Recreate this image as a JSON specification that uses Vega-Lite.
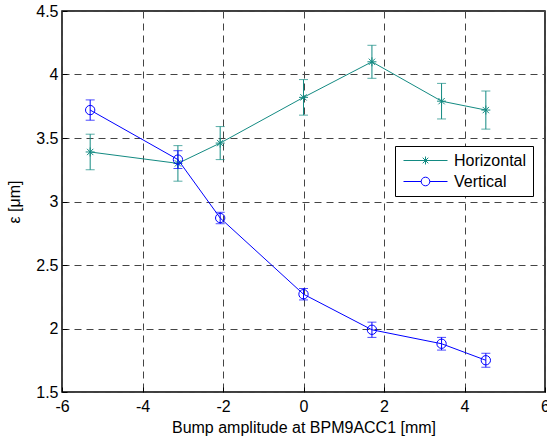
{
  "$schema": "https://vega.github.io/schema/vega-lite/v6.json",
  "autosize": "none",
  "width": 483,
  "height": 381,
  "padding": {"left": 62, "top": 11, "right": 2, "bottom": 49},
  "background": "white",
  "config": {
    "view": {"stroke": "black", "strokeWidth": 1.5},
    "font": "Liberation Sans",
    "axis": {
      "domain": false,
      "grid": true,
      "gridDash": [7, 5],
      "gridColor": "#444444",
      "gridWidth": 1,
      "gridOpacity": 1,
      "ticks": true,
      "tickSize": -5,
      "tickColor": "black",
      "labelFont": "Liberation Sans",
      "labelFontSize": 16,
      "labelColor": "black",
      "titleFont": "Liberation Sans",
      "titleFontSize": 16,
      "titleFontWeight": "normal",
      "titleColor": "black"
    }
  },
  "data": {
    "values": [
      {"series": "Horizontal", "x": -5.30, "y": 3.39, "err": 0.14},
      {"series": "Horizontal", "x": -3.12, "y": 3.30, "err": 0.14},
      {"series": "Horizontal", "x": -2.07, "y": 3.46, "err": 0.13},
      {"series": "Horizontal", "x": 0.00, "y": 3.82, "err": 0.14},
      {"series": "Horizontal", "x": 1.70, "y": 4.10, "err": 0.13},
      {"series": "Horizontal", "x": 3.43, "y": 3.79, "err": 0.14},
      {"series": "Horizontal", "x": 4.53, "y": 3.72, "err": 0.15},
      {"series": "Vertical", "x": -5.30, "y": 3.72, "err": 0.08},
      {"series": "Vertical", "x": -3.12, "y": 3.33, "err": 0.07},
      {"series": "Vertical", "x": -2.07, "y": 2.87, "err": 0.045},
      {"series": "Vertical", "x": 0.00, "y": 2.27, "err": 0.045},
      {"series": "Vertical", "x": 1.70, "y": 1.99, "err": 0.06},
      {"series": "Vertical", "x": 3.43, "y": 1.88, "err": 0.05},
      {"series": "Vertical", "x": 4.53, "y": 1.75, "err": 0.055}
    ]
  },
  "encoding": {
    "x": {
      "field": "x", "type": "quantitative",
      "scale": {"domain": [-6, 6], "nice": false, "zero": false},
      "axis": {"values": [-6, -4, -2, 0, 2, 4, 6], "labelExpr": "'' + datum.value", "title": "Bump amplitude at BPM9ACC1 [mm]", "labelPadding": 11, "titlePadding": 5, "labelFlush": false, "labelOverlap": false}
    },
    "y": {
      "field": "y", "type": "quantitative",
      "scale": {"domain": [1.5, 4.5], "nice": false, "zero": false},
      "axis": {"values": [1.5, 2, 2.5, 3, 3.5, 4, 4.5], "labelExpr": "'' + datum.value", "title": "ε [μm]", "labelPadding": 9, "titlePadding": 13, "labelFlush": false, "labelOverlap": false}
    }
  },
  "layer": [
    {
      "transform": [{"filter": "datum.series === 'Horizontal'"}],
      "layer": [
        {"mark": {"type": "errorbar", "ticks": {"size": 9, "color": "#138a82"}, "rule": {"color": "#138a82"}, "thickness": 1, "color": "#138a82"}, "encoding": {"yError": {"field": "err"}}},
        {"mark": {"type": "line", "strokeWidth": 1, "color": "#138a82"}, "encoding": {"order": {"field": "x", "type": "quantitative"}}},
        {"mark": {"type": "point", "shape": "M-1,0H1M0,-1V1M-0.7,-0.7L0.7,0.7M-0.7,0.7L0.7,-0.7", "size": 81, "filled": false, "strokeWidth": 1, "color": "#138a82", "opacity": 1}, "encoding": {}}
      ]
    },
    {
      "transform": [{"filter": "datum.series === 'Vertical'"}],
      "layer": [
        {"mark": {"type": "errorbar", "ticks": {"size": 9, "color": "#0000ff"}, "rule": {"color": "#0000ff"}, "thickness": 1, "color": "#0000ff"}, "encoding": {"yError": {"field": "err"}}},
        {"mark": {"type": "line", "strokeWidth": 1, "color": "#0000ff"}, "encoding": {"order": {"field": "x", "type": "quantitative"}}},
        {"mark": {"type": "point", "shape": "circle", "size": 87, "filled": false, "strokeWidth": 1, "color": "#0000ff", "opacity": 1}, "encoding": {}}
      ]
    },
    {
      "transform": [{"filter": "datum.x > 100"}],
      "mark": {"type": "point", "filled": false, "size": 256, "strokeWidth": 1},
      "encoding": {
        "color": {
          "field": "series", "type": "nominal",
          "scale": {"domain": ["Horizontal", "Vertical"], "range": ["#138a82", "#0000ff"]},
          "legend": {"orient": "none", "legendX": 333, "legendY": 135, "title": null, "strokeColor": "black", "fillColor": "white", "padding": 6, "rowPadding": 4, "labelFont": "Liberation Sans", "labelFontSize": 16, "labelColor": "black", "labelOffset": 34, "symbolSize": 256, "symbolStrokeWidth": 1, "symbolOpacity": 1, "symbolOffset": 2}
        },
        "shape": {
          "field": "series", "type": "nominal",
          "scale": {"domain": ["Horizontal", "Vertical"], "range": ["M-1,0H4.5M1.75,-0.5V0.5M1.25,0H2.25M1.4,-0.35L2.1,0.35M1.4,0.35L2.1,-0.35", "M-1,0H1.21M2.29,0H4.5M1.21,0A0.54,0.54 0 1,0 2.29,0A0.54,0.54 0 1,0 1.21,0"]},
          "legend": {"orient": "none", "legendX": 333, "legendY": 135, "title": null, "strokeColor": "black", "fillColor": "white", "padding": 6, "rowPadding": 4, "labelFont": "Liberation Sans", "labelFontSize": 16, "labelColor": "black", "labelOffset": 34, "symbolSize": 256, "symbolStrokeWidth": 1, "symbolOpacity": 1, "symbolOffset": 2}
        }
      }
    }
  ]
}
